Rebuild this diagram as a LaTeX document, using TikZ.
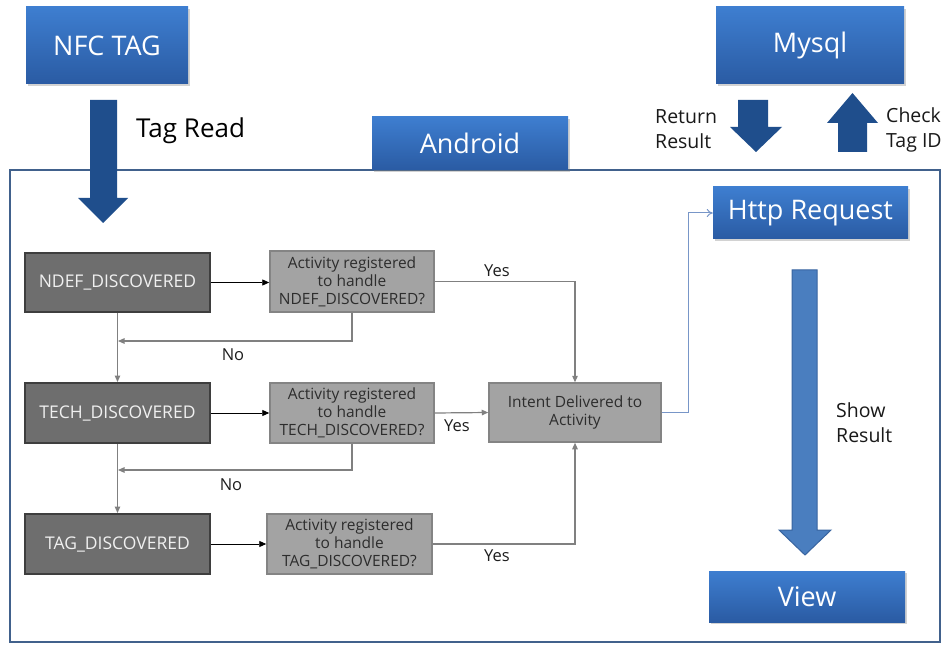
\documentclass[tikz,border=0pt]{standalone}
\usepackage{fontspec}
\setmainfont{Open Sans}
\usetikzlibrary{arrows.meta,shadows,calc}
\definecolor{bluetop}{RGB}{62,126,208}
\definecolor{bluebot}{RGB}{42,91,163}
\definecolor{darkarrow}{RGB}{31,78,140}
\definecolor{showarrow}{RGB}{74,126,191}
\definecolor{showarrowline}{RGB}{56,100,160}
\definecolor{framecol}{RGB}{65,97,140}
\definecolor{darkfill}{RGB}{110,110,110}
\definecolor{darkline}{RGB}{62,62,62}
\definecolor{qfill}{RGB}{163,163,163}
\definecolor{qline}{RGB}{132,132,132}
\definecolor{conn}{RGB}{128,128,128}
\definecolor{linkblue}{RGB}{120,150,200}
\begin{document}
\begin{tikzpicture}[x=1pt,y=-1pt,
  bluebox/.style={inner sep=0pt, top color=bluetop, bottom color=bluebot, draw=none,
    text=white, font=\fontsize{27}{30}\selectfont,
    drop shadow={shadow xshift=1.5pt, shadow yshift=-2pt, opacity=0.35}},
  darkbox/.style={inner sep=0pt, fill=darkfill, draw=darkline, line width=2pt,
    text={rgb,255:red,240;green,240;blue,240}, font=\fontsize{17.5}{20}\selectfont},
  qbox/.style={inner sep=0pt, fill=qfill, draw=qline, line width=1.5pt, align=center,
    text={rgb,255:red,45;green,45;blue,45}, font=\fontsize{15.5}{18}\selectfont},
  bigarrow/.style={fill=darkarrow, draw=none},
  lbl/.style={inner sep=0pt, font=\fontsize{16.5}{19}\selectfont, text={rgb,255:red,30;green,30;blue,30}},
  biglbl/.style={inner sep=0pt, align=left, font=\fontsize{19.5}{25}\selectfont, text={rgb,255:red,25;green,25;blue,25}},
  blackconn/.style={draw=black, line width=0.9pt, -{Triangle[length=7pt,width=6pt]}},
  grayconn/.style={draw=conn, line width=1.2pt, -{Triangle[length=6.5pt,width=5.5pt]}},
]
\useasboundingbox (0,0) rectangle (948,647);
\fill[white] (0,0) rectangle (948,647);

% frame
\draw[framecol, line width=1.8pt] (10,170) rectangle (940,642);

% top boxes
\node[bluebox, minimum width=162pt, minimum height=77pt] (nfc) at (107,45.5) {NFC TAG};
\node[bluebox, minimum width=188pt, minimum height=77pt] (mysql) at (810,45.5) {Mysql};
\node[bluebox, minimum width=196pt, minimum height=53pt] (android) at (470,143.5) {Android};
\node[bluebox, minimum width=195pt, minimum height=52pt] (http) at (810.5,213) {Http Request};
\node[bluebox, minimum width=196pt, minimum height=51pt] (view) at (807,596.5) {View};

% block arrows
\path[bigarrow] (90,100) -- (117,100) -- (117,198) -- (128,198) -- (103,223) -- (78,198) -- (90,198) -- cycle;
\path[bigarrow] (738,100) -- (768,100) -- (768,127) -- (782,127) -- (756,152) -- (730,127) -- (738,127) -- cycle;
\path[bigarrow] (838,152) -- (867,152) -- (867,123) -- (878,123) -- (852.5,93) -- (827,123) -- (838,123) -- cycle;
\path[fill=showarrow, draw=showarrowline, line width=1pt] (792,270) -- (817,270) -- (817,530) -- (831,530) -- (805,555) -- (779,530) -- (792,530) -- cycle;

% big labels
\node[inner sep=0pt, anchor=west, font=\fontsize{26}{30}\selectfont] (tagread) at (136,131) {Tag Read};
\node[biglbl, anchor=west] (retres) at (655,129.5) {Return\\Result};
\node[biglbl, anchor=west] (chk) at (886,129.5) {Check\\Tag ID};
\node[biglbl, anchor=west] (show) at (836,423) {Show\\Result};

% flowchart nodes
\node[darkbox, minimum width=185pt, minimum height=59pt] (ndef) at (117.5,282.5) {NDEF\_DISCOVERED};
\node[darkbox, minimum width=185pt, minimum height=60pt] (tech) at (117.5,413) {TECH\_DISCOVERED};
\node[darkbox, minimum width=185pt, minimum height=60pt] (tagd) at (117.5,544) {TAG\_DISCOVERED};
\node[qbox, minimum width=164pt, minimum height=61pt] (q1) at (352,281.5) {Activity registered\\to handle\\NDEF\_DISCOVERED?};
\node[qbox, minimum width=164pt, minimum height=60pt] (q2) at (352,413) {Activity registered\\to handle\\TECH\_DISCOVERED?};
\node[qbox, minimum width=165pt, minimum height=60pt] (q3) at (349.5,544) {Activity registered\\to handle\\TAG\_DISCOVERED?};
\node[qbox, minimum width=172pt, minimum height=59pt] (intent) at (575,412.5) {Intent Delivered to\\Activity};

% connectors
\draw[blackconn] (ndef.east) -- (q1.west |- ndef.east);
\draw[blackconn] (tech.east) -- (q2.west |- tech.east);
\draw[blackconn] (tagd.east) -- (q3.west |- tagd.east);
\draw[grayconn] (ndef.south) -- (tech.north);
\draw[grayconn] (tech.south) -- (tagd.north);
\coordinate (no1) at (118,341);
\coordinate (no2) at (118,470);
\draw[grayconn] (q1.south) |- (no1);
\draw[grayconn] (q2.south) |- (no2);
\draw[grayconn] (q1.east) -| (intent.north);
\draw[grayconn] (q2.east) -- (intent.west);
\draw[grayconn] (q3.east) -| (intent.south);
\draw[draw=linkblue, line width=1pt, -{To[length=6pt,width=8pt]}] (intent.east) -- ++(27,0) |- (http.west);

% small labels
\node[lbl] (yes1) at (497,271) {Yes};
\node[lbl] (yes2) at (457,426) {Yes};
\node[lbl] (yes3) at (497,556) {Yes};
\node[lbl] (no1l) at (233,355) {No};
\node[lbl] (no2l) at (231,485) {No};
\end{tikzpicture}
\end{document}
